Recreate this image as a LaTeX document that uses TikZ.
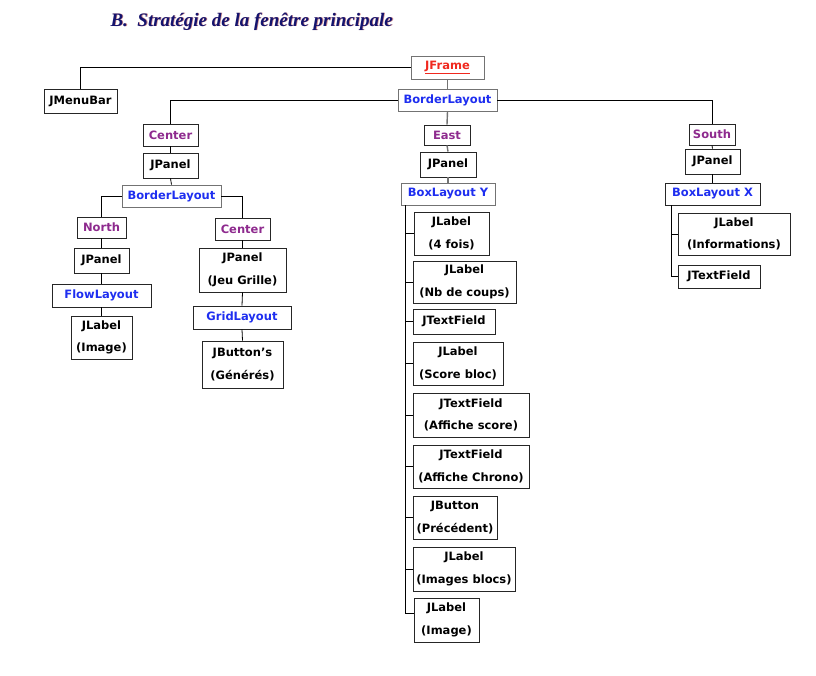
\documentclass[tikz,border=0pt]{standalone}
\usepackage{fontspec}
\setmainfont{DejaVu Sans}
\newfontfamily\titlefont{Liberation Serif}
\usetikzlibrary{calc}
\definecolor{lblue}{HTML}{1E2EF0}
\definecolor{lpurple}{HTML}{8E2A8E}
\definecolor{lred}{HTML}{F0281E}
\definecolor{tnavy}{HTML}{14146E}
\newcommand\bx[7]{\node[box,#6,minimum width={#4-#2},minimum height={#5-#3}] (#1) at ({(#2+#4)/2},{(#3+#5)/2}) {#7};}
\begin{document}
\begin{tikzpicture}[x=1pt,y=-1pt,
  box/.style={draw=black!85, line width=0.9pt, fill=white, inner sep=0pt, align=center,
    font=\bfseries\fontsize{11.5}{22.5}\selectfont},
  graybox/.style={draw=black!55},
  blu/.style={text=lblue},
  pur/.style={text=lpurple},
  ttl/.style={font=\titlefont\bfseries\itshape\fontsize{19}{22}\selectfont},
  conn/.style={line width=0.8pt, draw=black},
  gconn/.style={line width=1.4pt, draw=black!55}]
\useasboundingbox (0,0) rectangle (816,675);
\node[anchor=base west, text=red!60!black, opacity=0.45, ttl] at (107.8,26.8) {B.\ \ Stratégie de la fenêtre principale};
\node[anchor=base west, text=tnavy, ttl] (title) at (107,26) {B.\ \ Stratégie de la fenêtre principale};
% top
\bx{jframe}{411}{56}{484}{79}{graybox,text=lred}{\underline{JFrame}}
\bx{bl}{398}{89}{497}{111}{graybox,blu}{BorderLayout}
\bx{menubar}{44}{89}{117}{113}{}{JMenuBar}
% left branch
\bx{cL}{143}{124}{198}{146}{pur}{Center}
\bx{jpL}{143}{153}{198}{178}{}{JPanel}
\bx{blL}{122}{185}{221}{207}{graybox,blu}{BorderLayout}
\bx{north}{77}{217}{126}{238}{pur}{North}
\bx{jpN}{74}{248}{129}{273}{}{JPanel}
\bx{flow}{52}{284}{151}{307}{blu}{FlowLayout}
\bx{labImg}{71}{316}{132}{359}{}{JLabel\\(Image)}
\bx{cC}{215}{218}{270}{240}{pur}{Center}
\bx{jpJeu}{199}{248}{286}{292}{}{JPanel\\(Jeu Grille)}
\bx{grid}{193}{306}{291}{329}{blu}{GridLayout}
\bx{btns}{202}{341}{283}{388}{}{JButton's\\(Générés)}
% east branch
\bx{east}{424}{125}{470}{145}{pur}{East}
\bx{jpE}{420}{152}{476}{177}{}{JPanel}
\bx{bly}{401}{183}{495}{205}{graybox,blu}{BoxLayout Y}
\bx{e1}{414}{212}{489}{255}{}{JLabel\\(4 fois)}
\bx{e2}{413}{261}{516}{303}{}{JLabel\\(Nb de coups)}
\bx{e3}{413}{309}{495}{334}{}{JTextField}
\bx{e4}{413}{342}{503}{385}{}{JLabel\\(Score bloc)}
\bx{e5}{413}{393}{529}{437}{}{JTextField\\(Affiche score)}
\bx{e6}{413}{445}{529}{488}{}{JTextField\\(Affiche Chrono)}
\bx{e7}{413}{496}{497}{539}{}{JButton\\(Précédent)}
\bx{e8}{413}{547}{515}{591}{}{JLabel\\(Images blocs)}
\bx{e9}{414}{598}{479}{642}{}{JLabel\\(Image)}
% south branch
\bx{south}{689}{124}{735}{145}{pur}{South}
\bx{jpS}{685}{149}{740}{174}{}{JPanel}
\bx{blx}{665}{183}{760}{205}{blu}{BoxLayout X}
\bx{s1}{678}{213}{790}{255}{}{JLabel\\(Informations)}
\bx{s2}{678}{265}{760}{288}{}{JTextField}
% connectors
\draw[conn] (jframe.west) -| (menubar.north);
\draw[gconn] (jframe.south) -- (bl.north);
\draw[conn] (bl.west) -| (cL.north);
\draw[conn] (bl.east) -| (south.north);
\draw[gconn] (bl.south) -- (east.north);
\draw[gconn] (east.south) -- (jpE.north);
\draw[gconn] (jpE.south) -- (bly.north);
\draw[conn] (cL.south) -- (jpL.north);
\draw[conn] (jpL.south) -- (blL.north);
\draw[conn] (blL.west) -| (north.north);
\draw[conn] (blL.east) -| (cC.north);
\draw[conn] (north.south) -- (jpN.north);
\draw[conn] (jpN.south) -- (flow.north);
\draw[conn] (flow.south) -- (labImg.north);
\draw[conn] (cC.south) -- (jpJeu.north);
\draw[conn] (jpJeu.south) -- (grid.north);
\draw[conn] (grid.south) -- (btns.north);
\draw[conn] (south.south) -- (jpS.north);
\draw[conn] (jpS.south) -- (blx.north);
\coordinate (ys) at ($(bly.south west)+(5,0)$);
\foreach \n in {e1,e2,e3,e4,e5,e6,e7,e8}{\draw[conn] (ys) |- (\n.west);}
\draw[conn] (ys) |- ($(e9.north west)+(0,16)$);
\coordinate (xs) at ($(blx.south west)+(7,0)$);
\draw[conn] (xs) |- (s1.west);
\draw[conn] (xs) |- (s2.west);
\end{tikzpicture}
\end{document}
